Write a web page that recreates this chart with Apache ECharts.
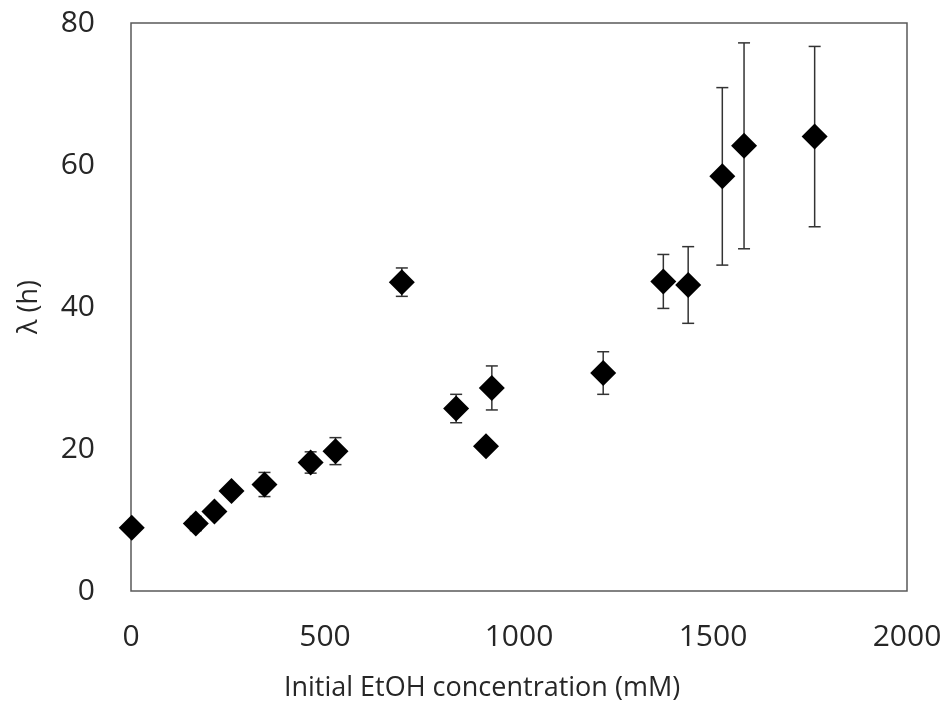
<!DOCTYPE html>
<html>
<head>
<meta charset="utf-8">
<script src="https://cdn.jsdelivr.net/npm/echarts@6/dist/echarts.min.js"></script>
<style>html,body{margin:0;padding:0;background:#fff}#c{width:947px;height:709px}</style>
</head>
<body>
<div id="c"></div>
<script>
const concentration = [2, 167, 215, 259, 344, 463, 527, 698, 838, 915, 930, 1217, 1372, 1436, 1524, 1580, 1762];
const lambdaH =       [8.9, 9.5, 11.2, 14.1, 15.0, 18.1, 19.7, 43.5, 25.7, 20.4, 28.6, 30.7, 43.6, 43.1, 58.4, 62.7, 64.0];
const errorH =        [0.7, 1.0, 0.5, 0.5, 1.7, 1.5, 1.9, 2.0, 2.0, 0.3, 3.1, 3.0, 3.8, 5.4, 12.5, 14.5, 12.7];
const xTicks = [0, 500, 1000, 1500, 2000];
const yTicks = [0, 20, 40, 60, 80];

const points = concentration.map((x, i) => [x, lambdaH[i]]);
const errs = concentration.map((x, i) => [x, lambdaH[i] - errorH[i], lambdaH[i] + errorH[i]]);
const font = "'Open Sans', 'Noto Sans', sans-serif";
const textColor = '#262626';

const chart = echarts.init(document.getElementById('c'));
chart.setOption({
  animation: false,
  grid: {left: 131, right: 40, top: 23, bottom: 118, show: true, borderColor: '#595959', borderWidth: 1.5, backgroundColor: '#fff'},
  xAxis: {
    type: 'value', min: xTicks[0], max: xTicks[xTicks.length - 1], interval: 500,
    name: 'Initial EtOH concentration (mM)', nameLocation: 'middle', nameGap: 84,
    nameTextStyle: {fontFamily: font, fontSize: 27, color: textColor, padding: [0, 74, 0, 0]},
    axisLine: {show: false}, axisTick: {show: false}, splitLine: {show: false},
    axisLabel: {fontFamily: font, fontSize: 30, color: textColor, margin: 31, formatter: v => String(v)}
  },
  yAxis: {
    type: 'value', min: yTicks[0], max: yTicks[yTicks.length - 1], interval: 20,
    name: 'λ (h)', nameLocation: 'middle', nameGap: 88, nameRotate: 90,
    nameTextStyle: {fontFamily: font, fontSize: 27, color: textColor},
    axisLine: {show: false}, axisTick: {show: false}, splitLine: {show: false},
    axisLabel: {fontFamily: font, fontSize: 30, color: textColor, margin: 36, formatter: v => String(v)}
  },
  series: [
    {
      type: 'custom',
      data: errs,
      renderItem: function (params, api) {
        const x = api.value(0);
        const lo = api.coord([x, api.value(1)]);
        const hi = api.coord([x, api.value(2)]);
        const w = 6;
        const style = {stroke: '#333', lineWidth: 1.5};
        return {
          type: 'group',
          children: [
            {type: 'line', shape: {x1: lo[0], y1: lo[1], x2: hi[0], y2: hi[1]}, style: style},
            {type: 'line', shape: {x1: lo[0] - w, y1: lo[1], x2: lo[0] + w, y2: lo[1]}, style: style},
            {type: 'line', shape: {x1: hi[0] - w, y1: hi[1], x2: hi[0] + w, y2: hi[1]}, style: style}
          ]
        };
      },
      z: 1
    },
    {
      type: 'scatter',
      data: points,
      symbol: 'diamond',
      symbolSize: [26, 26],
      itemStyle: {color: '#000', opacity: 1},
      z: 2
    }
  ]
});
</script>
</body>
</html>
